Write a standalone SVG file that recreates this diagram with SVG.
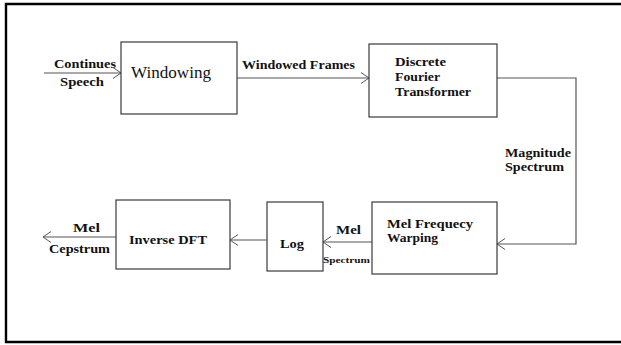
<svg xmlns="http://www.w3.org/2000/svg" width="621" height="345" viewBox="0 0 621 345">
<style>
.box{fill:#fff;stroke:#3a3a3a;stroke-width:1.2}
.ln{fill:none;stroke:#555;stroke-width:1.2}
text{font-family:'Liberation Serif','DejaVu Serif',serif;fill:#111}
.t{font-weight:bold;font-size:13px}
.tr{font-weight:normal;font-size:17px}
.ts{font-weight:bold;font-size:9px}
</style>
<defs>
<marker id="arr" markerUnits="userSpaceOnUse" markerWidth="10" markerHeight="12" refX="8" refY="6" orient="auto">
<path d="M0,0.5 L8,6 L0,11.5" fill="none" stroke="#555" stroke-width="1"/>
</marker>
</defs>
<rect width="621" height="345" fill="#fff"/>
<path d="M621,4 H6 V342 H621" fill="none" stroke="#000" stroke-width="2.4"/>
<g id="connectors">
<line class="ln" x1="44" y1="73" x2="121" y2="73" marker-end="url(#arr)"/>
<line class="ln" x1="237" y1="78" x2="369" y2="78" marker-end="url(#arr)"/>
<polyline class="ln" points="497,78 576,78 576,244 497,244" marker-end="url(#arr)"/>
<line class="ln" x1="372" y1="242" x2="323" y2="242" marker-end="url(#arr)"/>
<line class="ln" x1="267" y1="240" x2="230" y2="240" marker-end="url(#arr)"/>
<line class="ln" x1="116" y1="237" x2="43" y2="237" marker-end="url(#arr)"/>
<text class="t" x="54" y="68" textLength="62" lengthAdjust="spacingAndGlyphs">Continues</text>
<text class="t" x="60" y="86" textLength="44" lengthAdjust="spacingAndGlyphs">Speech</text>
<text class="t" x="242" y="69" textLength="113" lengthAdjust="spacingAndGlyphs">Windowed Frames</text>
<text class="t" x="505" y="157" textLength="66" lengthAdjust="spacingAndGlyphs">Magnitude</text>
<text class="t" x="505" y="171" textLength="59" lengthAdjust="spacingAndGlyphs">Spectrum</text>
<text class="t" x="336" y="234" textLength="25" lengthAdjust="spacingAndGlyphs">Mel</text>
<text class="ts" x="323" y="263" textLength="47" lengthAdjust="spacingAndGlyphs">Spectrum</text>
<text class="t" x="73" y="232" textLength="27" lengthAdjust="spacingAndGlyphs">Mel</text>
<text class="t" x="49" y="253" textLength="61" lengthAdjust="spacingAndGlyphs">Cepstrum</text>
</g>
<g id="windowing">
<rect class="box" x="121" y="42" width="116" height="72"/>
<text class="tr" x="131" y="78" textLength="80" lengthAdjust="spacingAndGlyphs">Windowing</text>
</g>
<g id="dft">
<rect class="box" x="369" y="44" width="128" height="73"/>
<text class="t" x="395" y="66" textLength="51" lengthAdjust="spacingAndGlyphs">Discrete</text>
<text class="t" x="395" y="81" textLength="45" lengthAdjust="spacingAndGlyphs">Fourier</text>
<text class="t" x="395" y="96" textLength="76" lengthAdjust="spacingAndGlyphs">Transformer</text>
</g>
<g id="melwarp">
<rect class="box" x="372" y="202" width="125" height="72"/>
<text class="t" x="387" y="228" textLength="86" lengthAdjust="spacingAndGlyphs">Mel Frequecy</text>
<text class="t" x="387" y="242" textLength="51" lengthAdjust="spacingAndGlyphs">Warping</text>
</g>
<g id="log">
<rect class="box" x="267" y="202" width="56" height="69"/>
<text class="t" x="280" y="248" textLength="24" lengthAdjust="spacingAndGlyphs">Log</text>
</g>
<g id="idft">
<rect class="box" x="116" y="200" width="114" height="69"/>
<text class="t" x="129" y="244" textLength="78" lengthAdjust="spacingAndGlyphs">Inverse DFT</text>
</g>
</svg>
